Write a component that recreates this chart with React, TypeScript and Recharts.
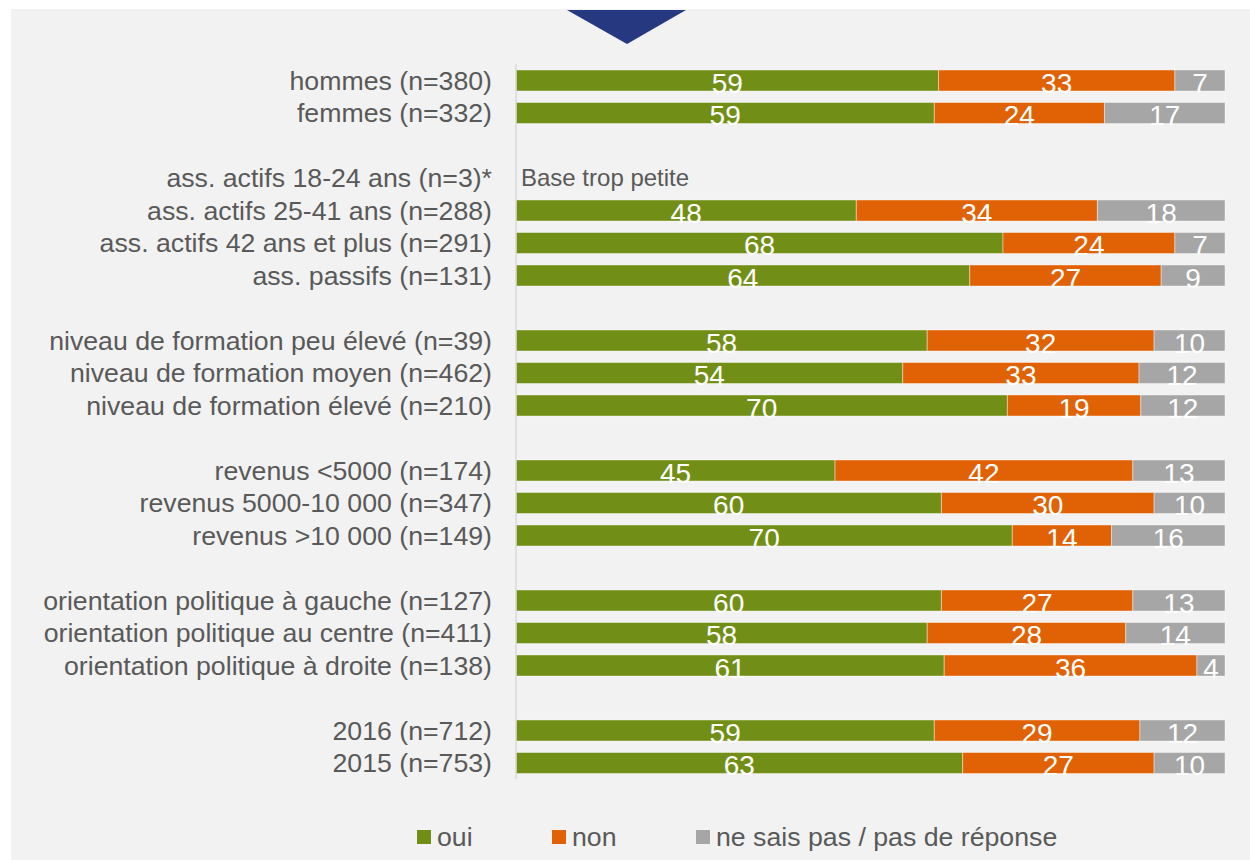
import { BarChart, Bar, XAxis, YAxis, LabelList, ReferenceLine } from 'recharts'

const categories = [
  'hommes (n=380)',
  'femmes (n=332)',
  '',
  'ass. actifs 18-24 ans (n=3)*',
  'ass. actifs 25-41 ans (n=288)',
  'ass. actifs 42 ans et plus (n=291)',
  'ass. passifs (n=131)',
  '',
  'niveau de formation peu élevé (n=39)',
  'niveau de formation moyen (n=462)',
  'niveau de formation élevé (n=210)',
  '',
  'revenus <5000 (n=174)',
  'revenus 5000-10 000 (n=347)',
  'revenus >10 000 (n=149)',
  '',
  'orientation politique à gauche (n=127)',
  'orientation politique au centre (n=411)',
  'orientation politique à droite (n=138)',
  '',
  '2016 (n=712)',
  '2015 (n=753)',
]

const oui = [59, 59, null, null, 48, 68, 64, null, 58, 54, 70, null, 45, 60, 70, null, 60, 58, 61, null, 59, 63]
const non = [33, 24, null, null, 34, 24, 27, null, 32, 33, 19, null, 42, 30, 14, null, 27, 28, 36, null, 29, 27]
const nsp = [7, 17, null, null, 18, 7, 9, null, 10, 12, 12, null, 13, 10, 16, null, 13, 14, 4, null, 12, 10]

const smallBaseRow = 3
const smallBaseNote = 'Base trop petite'

const legendItems = [
  { key: 'oui', label: 'oui', color: '#718f16' },
  { key: 'non', label: 'non', color: '#e06205' },
  { key: 'nsp', label: 'ne sais pas / pas de réponse', color: '#a6a6a6' },
]

const data = categories.map((name, i) => ({
  id: `r${i}`,
  name,
  oui: oui[i],
  non: non[i],
  nsp: nsp[i],
}))

const FONT = '"Liberation Sans", Arial, sans-serif'

const renderValue = (props: any) => {
  const { x, y, width, height, value } = props
  if (value === null || value === undefined) return null
  return (
    <text
      x={Number(x) + Number(width) / 2}
      y={Number(y) + Number(height) / 2 + 12}
      textAnchor="middle"
      fill="#ffffff"
      fontSize={28}
      fontFamily={FONT}
    >
      {value}
    </text>
  )
}

export default function App() {
  const legendLefts = [417, 552, 696]
  return (
    <div
      style={{
        position: 'absolute',
        left: 0,
        top: 0,
        width: 1250,
        height: 860,
        background: '#ffffff',
        fontFamily: FONT,
      }}
    >
      <div
        style={{
          position: 'absolute',
          left: 11,
          top: 9,
          width: 1239,
          height: 851,
          background: '#f2f2f2',
        }}
      />
      <svg
        width={1250}
        height={60}
        style={{ position: 'absolute', left: 0, top: 0 }}
      >
        <polygon points="567,10 686,10 627,44" fill="#253880" />
      </svg>
      <div style={{ position: 'absolute', left: 0, top: 0 }}>
        <BarChart
          width={1250}
          height={800}
          data={data}
          layout="vertical"
          stackOffset="expand"
          barSize={21}
          margin={{ top: 64, right: 25, left: 0, bottom: 21 }}
        >
          <XAxis type="number" domain={[0, 1]} hide />
          <YAxis
            type="category"
            dataKey="id"
            width={516}
            interval={0}
            tickLine={false}
            tickSize={0}
            tickMargin={24}
            axisLine={{ stroke: '#d9d9d9', strokeWidth: 1.5 }}
            tickFormatter={(v: string) => categories[Number(String(v).slice(1))]}
            tick={{ fill: '#595959', fontSize: 26.7, fontFamily: FONT }}
          />
          <Bar dataKey="oui" stackId="a" fill="#718f16" stroke="#ffffff" strokeOpacity={0.5} strokeWidth={0.8} isAnimationActive={false}>
            <LabelList dataKey="oui" content={renderValue} />
          </Bar>
          <Bar dataKey="non" stackId="a" fill="#e06205" stroke="#ffffff" strokeOpacity={0.5} strokeWidth={0.8} isAnimationActive={false}>
            <LabelList dataKey="non" content={renderValue} />
          </Bar>
          <Bar dataKey="nsp" stackId="a" fill="#a6a6a6" stroke="#ffffff" strokeOpacity={0.5} strokeWidth={0.8} isAnimationActive={false}>
            <LabelList dataKey="nsp" content={renderValue} />
          </Bar>
          <ReferenceLine
            y={`r${smallBaseRow}`}
            stroke="none"
            label={{
              value: smallBaseNote,
              position: 'insideLeft',
              fill: '#595959',
              fontSize: 24,
              fontFamily: FONT,
            }}
          />
        </BarChart>
      </div>
      {legendItems.map((item, i) => (
        <div
          key={item.key}
          style={{
            position: 'absolute',
            left: legendLefts[i],
            top: 820,
            height: 34,
            display: 'flex',
            alignItems: 'center',
            color: '#595959',
            fontSize: 26.7,
            whiteSpace: 'nowrap',
          }}
        >
          <span
            style={{
              display: 'inline-block',
              width: 14,
              height: 14,
              background: item.color,
              marginRight: 6,
            }}
          />
          {item.label}
        </div>
      ))}
    </div>
  )
}
